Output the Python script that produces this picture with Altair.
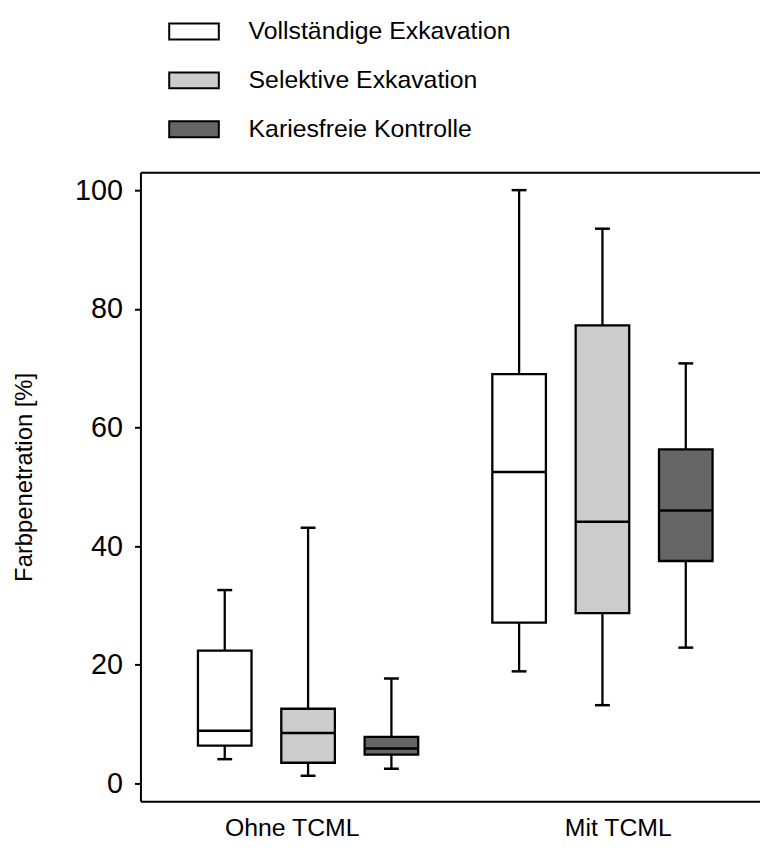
import altair as alt
import pandas as pd

groups = ["Ohne TCML", "Mit TCML"]
series = ["Vollständige Exkavation", "Selektive Exkavation", "Kariesfreie Kontrolle"]
fill_colors = ["#ffffff", "#cccccc", "#666666"]

# box statistics, order: Ohne (3 series), Mit (3 series)
whisker_low = [4.1, 1.3, 2.5, 18.9, 13.2, 22.9]
q1 = [6.4, 3.5, 4.85, 27.1, 28.7, 37.5]
median = [8.9, 8.5, 5.9, 52.5, 44.1, 46.0]
q3 = [22.4, 12.6, 7.85, 69.0, 77.2, 56.3]
whisker_high = [32.6, 43.1, 17.7, 100.0, 93.5, 70.8]
y_ticks = [0, 20, 40, 60, 80, 100]

rows = []
k = 0
for g in groups:
    for s in series:
        rows.append(dict(group=g, series=s, low=whisker_low[k], q1=q1[k],
                         median=median[k], q3=q3[k], high=whisker_high[k]))
        k += 1
df = pd.DataFrame(rows)

W, H = 624.5, 634
NARROW = "Liberation Sans Narrow, Arial Narrow, Liberation Sans, Arial, sans-serif"
REG = "Liberation Sans, Arial, sans-serif"

x_scale = alt.Scale(domain=groups, paddingInner=0.1507, paddingOuter=0.1277, align=0.567)
xo_scale = alt.Scale(domain=series, paddingInner=0.357, paddingOuter=0.1785)
y_scale = alt.Scale(domain=[-3, 103], nice=False, zero=False)
color_scale = alt.Scale(domain=series, range=fill_colors)

base = alt.Chart(df)
xo = alt.XOffset("series:N", scale=xo_scale, sort=series)

x_bottom = alt.X(
    "group:N", scale=x_scale, sort=groups, title=None,
    axis=alt.Axis(orient="bottom", labelAngle=0, ticks=False, domain=True,
                  domainColor="black", domainWidth=2, labelFont=NARROW,
                  labelFontSize=25, labelColor="black", labelPadding=14,
                  labelOffset={"condition": {"test": "datum.value === 'Ohne TCML'", "value": -16},
                               "value": 16}),
)
x_top = alt.X(
    "group:N", scale=x_scale, sort=groups, title=None,
    axis=alt.Axis(orient="top", labels=False, ticks=False, domain=True,
                  domainColor="black", domainWidth=2),
)
x_none = alt.X("group:N", scale=x_scale, sort=groups, axis=None)

whiskers = base.mark_rule(color="black", strokeWidth=2.3, opacity=1).encode(
    x=x_none, xOffset=xo,
    y=alt.Y("low:Q", scale=y_scale, axis=None),
    y2="high:Q",
)

boxes = base.mark_bar(stroke="black", strokeWidth=2.3, opacity=1).encode(
    x=x_bottom, xOffset=xo,
    y=alt.Y("q1:Q", scale=y_scale,
            axis=alt.Axis(orient="left", values=y_ticks, grid=False, tickSize=6, tickWidth=2,
                          tickColor="black", domainColor="black", domainWidth=2,
                          labelFont=REG, labelFontSize=29, labelColor="black",
                          labelPadding=12, title="Farbpenetration [%]",
                          titleFont=NARROW, titleFontSize=24, titleFontWeight="normal",
                          titleColor="black", titleAngle=-90, titleX=-110, titleY=307,
                          titleAlign="center", titleBaseline="alphabetic")),
    y2="q3:Q",
    color=alt.Color("series:N", scale=color_scale, sort=series,
                    legend=alt.Legend(title=None, orient="none", legendX=28, legendY=-168,
                                      symbolType="M-1,-0.32H1V0.32H-1Z", symbolSize=2500,
                                      symbolStrokeColor="black", symbolStrokeWidth=2,
                                      symbolOpacity=1, labelFont=NARROW, labelFontSize=25,
                                      labelColor="black", labelOffset=29, labelLimit=0,
                                      rowPadding=10.3, padding=0)),
)

medians = base.mark_tick(color="black", thickness=2.5, size=54, orient="horizontal",
                         opacity=1).encode(
    x=x_none, xOffset=xo,
    y=alt.Y("median:Q", scale=y_scale, axis=None),
)

caps = base.transform_fold(["low", "high"], as_=["stat", "val"]).mark_tick(
    color="black", thickness=2.5, size=15, orient="horizontal", opacity=1).encode(
    x=x_top, xOffset=xo,
    y=alt.Y("val:Q", scale=y_scale, axis=None),
)

chart = alt.layer(whiskers, boxes, medians, caps).resolve_axis(
    x="independent", y="independent").properties(
    width=W, height=H,
    background="white",
    autosize=alt.AutoSizeParams(type="none"),
    padding={"left": 133.5, "top": 162.3, "right": 0, "bottom": 40},
).configure_view(stroke="transparent", strokeWidth=0, strokeOpacity=0)

chart.save("out.html", embed_options={"renderer": "svg", "actions": False})
